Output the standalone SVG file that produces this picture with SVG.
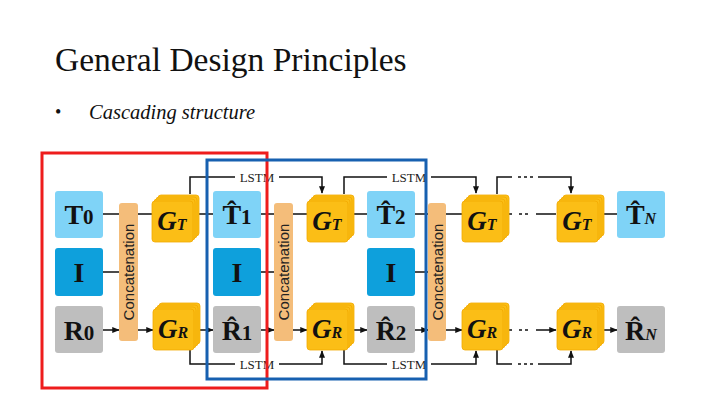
<svg xmlns="http://www.w3.org/2000/svg" xmlns:xlink="http://www.w3.org/1999/xlink" width="720" height="404" viewBox="0 0 720 404">
<style>
.lb{fill:#7fd3f7}.db{fill:#0ea0dc}.gr{fill:#bebebe}
.cc{fill:#f4bd7a}
.g{fill:#fbbe16;stroke:#f2a900;stroke-width:0.8}
.t{font-family:"Liberation Serif",serif;font-weight:bold;fill:#111;font-size:28px}
.gt{font-family:"Liberation Serif",serif;font-weight:bold;font-style:italic;fill:#111;font-size:27px}
.ct{font-family:"Liberation Sans",sans-serif;font-size:15px;fill:#222}
.ln{fill:none;stroke:#111;stroke-width:1.5}
.ls{font-family:"Liberation Serif",serif;font-size:13px;fill:#222}
</style>
<defs>
<marker id="a" viewBox="0 0 10 10" refX="9" refY="5" markerWidth="5" markerHeight="5" orient="auto"><path d="M0,1 L10,5 L0,9 z" fill="#111"/></marker>
<g id="stk">
<rect x="6" y="-6" width="41" height="41" rx="3" class="g"/>
<rect x="4" y="-4" width="41" height="41" rx="3" class="g"/>
<rect x="2" y="-2" width="41" height="41" rx="3" class="g"/>
<rect x="0" y="0" width="41" height="41" rx="3" class="g"/>
</g>
</defs>
<rect width="720" height="404" fill="#fff"/>
<text x="55" y="71" font-family="Liberation Serif,serif" font-size="33.5" fill="#111">General Design Principles</text>
<text x="55" y="118" font-family="Liberation Serif,serif" font-size="18" fill="#111">•</text>
<text x="89" y="119" font-family="Liberation Serif,serif" font-size="20.5" font-style="italic" fill="#111">Cascading structure</text>

<g id="connectors">
<path class="ln" marker-end="url(#a)" d="M103,214H119M103,272H119M103,330H119"/>
<path class="ln" marker-end="url(#a)" d="M138,214H152M138,330H153"/>
<path class="ln" marker-end="url(#a)" d="M195,214H213M196,330H213"/>
<path class="ln" marker-end="url(#a)" d="M261,214H274M261,272H274M261,330H274"/>
<path class="ln" marker-end="url(#a)" d="M293,214H307M293,330H307"/>
<path class="ln" marker-end="url(#a)" d="M351,214H367M351,330H367"/>
<path class="ln" marker-end="url(#a)" d="M415,214H428M415,272H428M415,330H428"/>
<path class="ln" marker-end="url(#a)" d="M446,214H462M446,330H462"/>
<path class="ln" marker-end="url(#a)" d="M536,214H556M536,330H556"/>
<path class="ln" d="M519,214H530M519,330H530" stroke-dasharray="3,3"/>
<path class="ln" d="M506,214H512M506,330H512"/>
<path class="ln" marker-end="url(#a)" d="M599,214H617M599,330H617"/>
<path class="ln" marker-end="url(#a)" d="M190,194V177H235M279,177H322V193"/>
<path class="ln" marker-end="url(#a)" d="M344,194V177H387M431,177H476V193"/>
<path class="ln" marker-end="url(#a)" d="M497,194V177H512M538,177H571V193"/>
<path class="ln" d="M518,177H534" stroke-dasharray="3,3"/>
<path class="ln" marker-end="url(#a)" d="M190,350V364H235M279,364H322V351"/>
<path class="ln" marker-end="url(#a)" d="M344,350V364H387M431,364H476V351"/>
<path class="ln" marker-end="url(#a)" d="M497,350V364H512M538,364H571V351"/>
<path class="ln" d="M518,364H534" stroke-dasharray="3,3"/>
<text class="ls" x="257" y="181.5" text-anchor="middle">LSTM</text>
<text class="ls" x="409" y="181.5" text-anchor="middle">LSTM</text>
<text class="ls" x="257" y="368.5" text-anchor="middle">LSTM</text>
<text class="ls" x="409" y="368.5" text-anchor="middle">LSTM</text>
</g>

<g id="T0"><rect x="55" y="191" width="48" height="47" rx="3" class="lb"/><text class="t" x="79" y="224" text-anchor="middle">T<tspan font-size="21">0</tspan></text></g>
<g id="I0"><rect x="55" y="248" width="48" height="48" rx="3" class="db"/><text class="t" x="79" y="282" text-anchor="middle">I</text></g>
<g id="R0"><rect x="55" y="306" width="48" height="47" rx="3" class="gr"/><text class="t" x="79" y="340" text-anchor="middle">R<tspan font-size="21">0</tspan></text></g>
<g id="C1"><rect x="119" y="203" width="19" height="138" rx="3" class="cc"/><text class="ct" transform="translate(134,272) rotate(-90)" text-anchor="middle">Concatenation</text></g>
<g id="GT1"><use xlink:href="#stk" x="152" y="201"/><text class="gt" x="172" y="230" text-anchor="middle">G<tspan font-size="16">T</tspan></text></g>
<g id="GR1"><use xlink:href="#stk" x="153" y="309"/><text class="gt" x="173" y="338" text-anchor="middle">G<tspan font-size="16">R</tspan></text></g>

<g id="T1"><rect x="213" y="191" width="48" height="47" rx="3" class="lb"/><text class="t" x="237" y="224" text-anchor="middle">T̂<tspan font-size="21">1</tspan></text></g>
<g id="I1"><rect x="213" y="248" width="48" height="48" rx="3" class="db"/><text class="t" x="237" y="282" text-anchor="middle">I</text></g>
<g id="R1"><rect x="213" y="306" width="48" height="47" rx="3" class="gr"/><text class="t" x="237" y="340" text-anchor="middle">R̂<tspan font-size="21">1</tspan></text></g>
<g id="C2"><rect x="274" y="203" width="19" height="138" rx="3" class="cc"/><text class="ct" transform="translate(289,272) rotate(-90)" text-anchor="middle">Concatenation</text></g>
<g id="GT2"><use xlink:href="#stk" x="307" y="201"/><text class="gt" x="327" y="230" text-anchor="middle">G<tspan font-size="16">T</tspan></text></g>
<g id="GR2"><use xlink:href="#stk" x="307" y="309"/><text class="gt" x="327" y="338" text-anchor="middle">G<tspan font-size="16">R</tspan></text></g>

<g id="T2"><rect x="367" y="191" width="48" height="47" rx="3" class="lb"/><text class="t" x="391" y="224" text-anchor="middle">T̂<tspan font-size="21">2</tspan></text></g>
<g id="I2"><rect x="367" y="248" width="48" height="48" rx="3" class="db"/><text class="t" x="391" y="282" text-anchor="middle">I</text></g>
<g id="R2"><rect x="367" y="306" width="48" height="47" rx="3" class="gr"/><text class="t" x="391" y="340" text-anchor="middle">R̂<tspan font-size="21">2</tspan></text></g>
<g id="C3"><rect x="428" y="203" width="18" height="138" rx="3" class="cc"/><text class="ct" transform="translate(443,272) rotate(-90)" text-anchor="middle">Concatenation</text></g>
<g id="GT3"><use xlink:href="#stk" x="462" y="201"/><text class="gt" x="482" y="230" text-anchor="middle">G<tspan font-size="16">T</tspan></text></g>
<g id="GR3"><use xlink:href="#stk" x="462" y="309"/><text class="gt" x="482" y="338" text-anchor="middle">G<tspan font-size="16">R</tspan></text></g>

<g id="GT4"><use xlink:href="#stk" x="557" y="201"/><text class="gt" x="577" y="230" text-anchor="middle">G<tspan font-size="16">T</tspan></text></g>
<g id="GR4"><use xlink:href="#stk" x="557" y="309"/><text class="gt" x="577" y="338" text-anchor="middle">G<tspan font-size="16">R</tspan></text></g>
<g id="TN"><rect x="617" y="191" width="48" height="47" rx="3" class="lb"/><text class="t" x="641" y="224" text-anchor="middle">T̂<tspan font-size="16" font-style="italic">N</tspan></text></g>
<g id="RN"><rect x="617" y="306" width="48" height="47" rx="3" class="gr"/><text class="t" x="641" y="340" text-anchor="middle">R̂<tspan font-size="16" font-style="italic">N</tspan></text></g>

<rect x="42" y="153" width="225" height="235" fill="none" stroke="#ee1c1c" stroke-width="3"/>
<rect x="207" y="160" width="219" height="219" fill="none" stroke="#1760b0" stroke-width="3"/>
</svg>
